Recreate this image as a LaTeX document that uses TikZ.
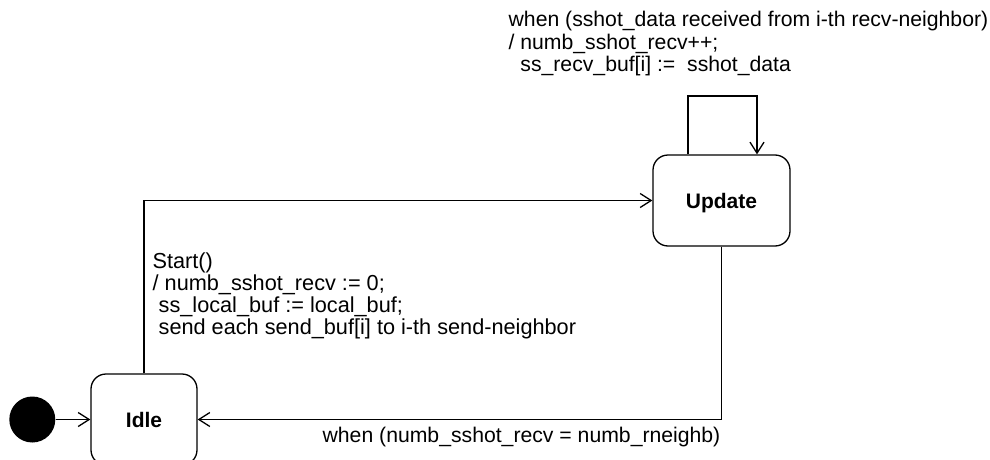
\documentclass[tikz,border=0pt]{standalone}
\usepackage{fontspec}
\setmainfont{Liberation Sans}
\usetikzlibrary{arrows.meta}
\begin{document}
\begin{tikzpicture}[x=1pt,y=-1pt,line width=1.3pt,
  state/.style={draw, rounded corners=15pt, minimum height=91pt, inner sep=0,
    text depth=0pt, font=\fontsize{21}{22.5}\selectfont\bfseries},
  lbl/.style={inner sep=0, anchor=base west, font=\fontsize{21.2}{22.3}\selectfont},
  arr/.style={-{Straight Barb[length=11pt,width=14pt]}}]
\useasboundingbox (0,0) rectangle (990,460);
\clip (0,0) rectangle (990,460);
\node[state, minimum width=137pt] (update) at (721.5,200.5) {Update};
\node[state, minimum width=106pt] (idle) at (144,419.5) {Idle};
\node[circle, fill=black, minimum size=46pt, inner sep=0] (init) at (32.3,419.5) {};
\coordinate (loopL) at (688,96);
\coordinate (loopR) at (757,96);
\draw[arr] (init.east) -- (idle.west);
\draw[arr] (idle.north) |- (update.west);
\draw[arr] (update.south) |- (idle.east);
\draw[arr] (update.north -| loopL) -- (loopL) -- (loopR) -- (update.north -| loopR);
\node[lbl] (tlbl) at (508,27) {\begin{tabular}[t]{@{}l@{}}when (sshot\_data received from i-th recv-neighbor)\\
/ numb\_sshot\_recv++;\\
\ \ ss\_recv\_buf[i] :=\ \ sshot\_data\end{tabular}};
\node[lbl, font=\fontsize{21.7}{22}\selectfont] (slbl) at (152,268) {\begin{tabular}[t]{@{}l@{}}Start()\\
/ numb\_sshot\_recv := 0;\\
\ ss\_local\_buf := local\_buf;\\
\ send each send\_buf[i] to i-th send-neighbor\end{tabular}};
\node[lbl] (blbl) at (322,442) {when (numb\_sshot\_recv = numb\_rneighb)};
\end{tikzpicture}
\end{document}
